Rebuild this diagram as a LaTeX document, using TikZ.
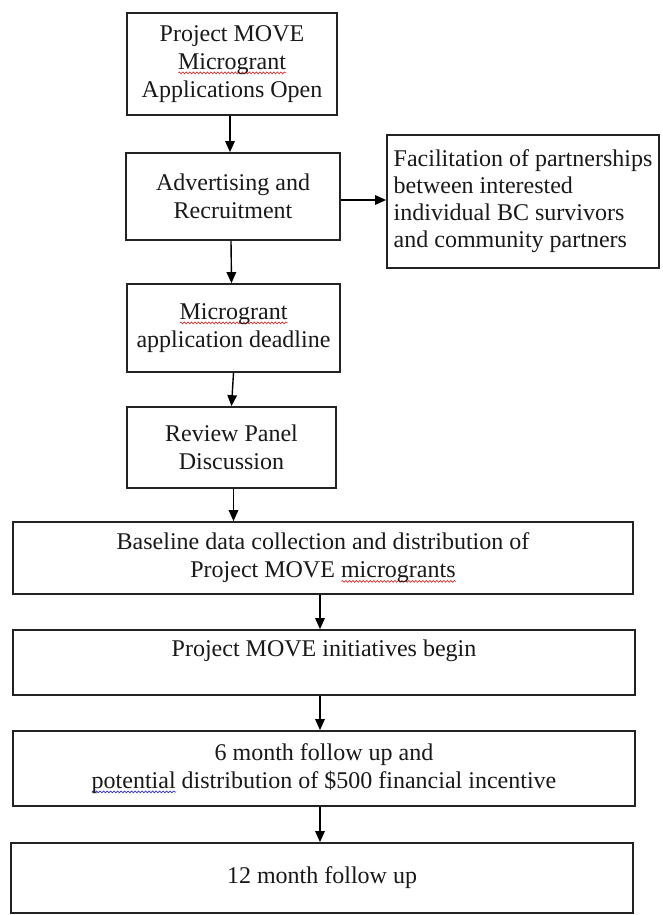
\documentclass[tikz,border=0pt]{standalone}
\usepackage{fontspec}
\setmainfont{Liberation Serif}
\usetikzlibrary{arrows.meta,calc,decorations.pathmorphing}
\definecolor{spellred}{RGB}{215,45,45}
\definecolor{spellblue}{RGB}{45,45,205}
\definecolor{boxline}{RGB}{35,35,35}
\newlength\wavewd
\newcommand\wavy[2]{\settowidth\wavewd{#2}\rlap{\tikz[baseline=0pt,x=1pt,y=1pt]{\draw[#1,line width=0.7pt,decorate,decoration={snake,amplitude=0.9pt,segment length=3.5pt}] (0,-3.5) -- (\wavewd,-3.5);}}#2}
\begin{document}
\begin{tikzpicture}[x=1pt,y=-1pt,
  box/.style={draw=boxline, line width=1.7pt, align=center, inner sep=0pt,
    font=\fontsize{24pt}{28pt}\selectfont, text=black!90},
  arr/.style={draw=black, line width=1.4pt, -{Triangle[length=11pt,width=9.5pt]}}]
\useasboundingbox (0,0) rectangle (662,915);
\fill[white] (0,0) rectangle (662,915);

\node[box, minimum width=210pt, minimum height=102pt] (n1) at (232,64)
  {Project MOVE\\\wavy{spellred}{Microgrant}\\Applications Open};
\node[box, minimum width=214pt, minimum height=87pt] (n2) at (233,196.5)
  {Advertising and\\Recruitment};
\node[box, align=left, minimum width=272pt, minimum height=133pt,
  font=\fontsize{24pt}{27pt}\selectfont] (nf) at (523,201.5)
  {Facilitation of partnerships\\between interested\\individual BC survivors\\and community partners};
\node[box, minimum width=213pt, minimum height=88pt] (n3) at (233.5,328)
  {\wavy{spellred}{Microgrant}\\application deadline};
\node[box, minimum width=209pt, minimum height=81pt] (n4) at (231.5,447.5)
  {Review Panel\\Discussion};
\node[box, minimum width=620pt, minimum height=72pt] (n5) at (323,558)
  {Baseline data collection and distribution of\\Project MOVE \wavy{spellred}{microgrants}};
\node[box, minimum width=622pt, minimum height=65pt] (n6) at (324,662.5)
  {Project MOVE initiatives begin\\\mbox{}};
\node[box, minimum width=622pt, minimum height=75pt] (n7) at (324,768.5)
  {6 month follow up and\\\wavy{spellblue}{potential} distribution of \$500 financial incentive};
\node[box, minimum width=622pt, minimum height=70pt] (n8) at (322,878)
  {12 month follow up};

\draw[arr] ([xshift=-2pt]n1.south) -- ([xshift=-3pt]n2.north);
\draw[arr] ([yshift=-3.5pt]n2.east) -- ([yshift=-3.5pt]n2.east -| nf.west);
\draw[arr] ([xshift=-2pt]n2.south) -- ([xshift=-2pt]n3.north);
\draw[arr] (n3.south) -- (n4.north);
\draw[arr] ([xshift=2pt]n4.south) -- ([xshift=2pt]n4.south |- n5.north);
\draw[arr] ([xshift=-3pt]n5.south) -- ([xshift=-4pt]n6.north);
\draw[arr] ([xshift=-4pt]n6.south) -- ([xshift=-4pt]n7.north);
\draw[arr] ([xshift=-4pt]n7.south) -- ([xshift=-2pt]n8.north);
\end{tikzpicture}
\end{document}
